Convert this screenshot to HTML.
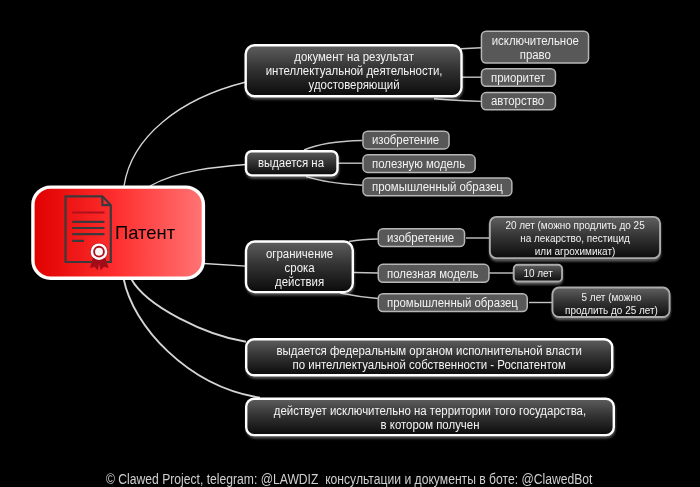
<!DOCTYPE html>
<html lang="ru">
<head>
<meta charset="utf-8">
<title>Патент</title>
<style>
html,body{margin:0;padding:0;background:#000;}
body{width:700px;height:487px;position:relative;overflow:hidden;font-family:"Liberation Sans",sans-serif;color:#fff;}
svg{position:absolute;left:0;top:0;}
.n{position:absolute;display:flex;align-items:center;justify-content:center;text-align:center;white-space:nowrap;}
.m{font-size:12px;transform:scaleX(.952);line-height:14px;color:#f4f4f4;}
.s{font-size:12px;transform:scaleX(.951);line-height:14px;color:#f2f2f2;}
.s.al{justify-content:flex-start;transform-origin:0 50%;}
.l{font-size:10px;transform:scaleX(.995);line-height:13px;color:#f2f2f2;}
#ct{transform:translateZ(0);position:absolute;left:115px;top:222px;font-size:18.4px;line-height:22px;color:#000;}
#f{transform:scaleX(.867);transform-origin:0 0;position:absolute;left:106px;top:471.1px;font-size:14px;line-height:16px;color:#d0d0d0;white-space:pre;}
</style>
</head>
<body>
<svg width="700" height="487" viewBox="0 0 700 487">
<defs>
<linearGradient id="gm" x1="0" y1="0" x2="0" y2="1"><stop offset="0" stop-color="#5e5e5e"/><stop offset=".45" stop-color="#343434"/><stop offset="1" stop-color="#0a0a0a"/></linearGradient>
<linearGradient id="gl" x1="0" y1="0" x2="0" y2="1"><stop offset="0" stop-color="#606060"/><stop offset=".45" stop-color="#363636"/><stop offset="1" stop-color="#0c0c0c"/></linearGradient>
<linearGradient id="gr" x1="0" y1="0" x2="1" y2="0"><stop offset="0" stop-color="#e00000"/><stop offset=".5" stop-color="#ff3030"/><stop offset="1" stop-color="#ff7474"/></linearGradient>
<filter id="sh" x="-10%" y="-30%" width="120%" height="170%"><feGaussianBlur stdDeviation="1.1"/></filter>
<filter id="sh2" x="-10%" y="-30%" width="120%" height="170%"><feGaussianBlur stdDeviation="0.9"/></filter>
</defs>
<g fill="none" stroke="#d6d6d6" stroke-width="1.35">
<path d="M124 186 C131.400 137.100 179 98.700 246 82"/>
<path d="M150 186 C178.200 170.100 216.900 166.800 246 164.500"/>
<path d="M204 263.500 L246 266.200"/>
</g>
<g fill="none" stroke="#d4d4d4" stroke-width="1.9">
<path d="M131.300 279 C146.400 306.600 206.300 335.400 246 341.800"/>
<path d="M123.700 279 C132.700 325.200 187 386.300 260 397.700"/>
</g>
<g fill="none" stroke="#c4c4c4" stroke-width="1.4">
<path d="M461 48.800 L481 47.700"/>
<path d="M461 77.200 L481 77.200"/>
<path d="M434 98.700 C450 99.800 466 100.800 481 101.400"/>
<path d="M304 150 C320 143 340 141 362 140.500"/>
<path d="M338 163.200 L362.400 163.200"/>
<path d="M306 176.600 C320 181 340 184 362.400 185.200"/>
<path d="M349 241.500 C358 240 368 239.200 378 239"/>
<path d="M354 272.500 L378 273"/>
<path d="M340 293 C352 295.500 365 297.500 378 298.500"/>
<path d="M466 238 L489 238"/>
<path d="M489 273 L514 273"/>
<path d="M529 302.500 L552 302.500"/>
</g>

<g filter="url(#sh)" fill="#fff" opacity=".32">
<rect x="245.3" y="46.3" width="217.9" height="53.3" rx="10"/>
<rect x="245.6" y="152.2" width="93.6" height="26.6" rx="7"/>
<rect x="245.6" y="242.5" width="108.9" height="53" rx="10"/>
<rect x="245.8" y="340.3" width="368.1" height="38.4" rx="9"/>
<rect x="245.8" y="399.8" width="369.7" height="38.7" rx="9"/>
</g>
<g filter="url(#sh2)" fill="#fff" opacity=".36">
<rect x="489.4" y="218.2" width="171.6" height="43.2" rx="7.5"/>
<rect x="513.3" y="266.1" width="49.7" height="18.7" rx="5"/>
<rect x="552" y="288.9" width="118.5" height="31.4" rx="7.5"/>
</g>
<rect x="245.7" y="45.3" width="215.8" height="50.9" rx="8.8" fill="url(#gm)" stroke="#fff" stroke-width="2.4"/>
<rect x="246" y="151.2" width="91.5" height="24.2" rx="5.8" fill="url(#gm)" stroke="#fff" stroke-width="2.4"/>
<rect x="246" y="241.5" width="106.8" height="50.6" rx="8.8" fill="url(#gm)" stroke="#fff" stroke-width="2.4"/>
<rect x="246.2" y="339.3" width="366" height="36" rx="7.8" fill="url(#gm)" stroke="#fff" stroke-width="2.4"/>
<rect x="246.2" y="398.8" width="367.6" height="36.3" rx="7.8" fill="url(#gm)" stroke="#fff" stroke-width="2.4"/>
<rect x="481.45" y="31.25" width="107.1" height="31.8" rx="4.75" fill="#585858" stroke="#b6b6b6" stroke-width="1.5"/>
<rect x="481.45" y="68.75" width="74" height="17.6" rx="4.75" fill="#585858" stroke="#b6b6b6" stroke-width="1.5"/>
<rect x="481.45" y="92.55" width="74" height="17.3" rx="4.75" fill="#585858" stroke="#b6b6b6" stroke-width="1.5"/>
<rect x="362.95" y="131.15" width="86.1" height="17.8" rx="4.75" fill="#585858" stroke="#b6b6b6" stroke-width="1.5"/>
<rect x="362.95" y="154.85" width="112.2" height="17.6" rx="4.75" fill="#585858" stroke="#b6b6b6" stroke-width="1.5"/>
<rect x="362.95" y="178.05" width="148.9" height="17.8" rx="4.75" fill="#585858" stroke="#b6b6b6" stroke-width="1.5"/>
<rect x="378.25" y="228.75" width="86.3" height="17.8" rx="4.75" fill="#585858" stroke="#b6b6b6" stroke-width="1.5"/>
<rect x="378.25" y="264.35" width="110.7" height="18" rx="4.75" fill="#585858" stroke="#b6b6b6" stroke-width="1.5"/>
<rect x="378.25" y="293.65" width="149" height="17.9" rx="4.75" fill="#585858" stroke="#b6b6b6" stroke-width="1.5"/>
<rect x="489.85" y="216.85" width="170.2" height="41.3" rx="6.55" fill="url(#gl)" stroke="#ababab" stroke-width="1.9"/>
<rect x="513.75" y="264.75" width="48.3" height="16.8" rx="4.05" fill="url(#gl)" stroke="#ababab" stroke-width="1.9"/>
<rect x="552.45" y="287.55" width="117.1" height="29.5" rx="6.55" fill="url(#gl)" stroke="#ababab" stroke-width="1.9"/>
<rect x="32.9" y="187.1" width="170.5" height="91.1" rx="17.8" fill="url(#gr)" stroke="#fff" stroke-width="3.4"/>
<g fill="none">
<path d="M65.500 196.300 H102.400 L110.800 205.200 V262 H65.500 Z" stroke="#3a3a3c" stroke-width="2.200"/>
<path d="M102.400 196.300 V205.200 H110.800" stroke="#3a3a3c" stroke-width="2.200"/>
<path d="M72.200 212.500 H104.500" stroke="#b0101c" stroke-width="2.200"/>
<path d="M72.200 221.800 H104.500 M72.200 228 H104.500 M72.200 234.200 H104.500 M72.200 240.800 H84" stroke="#3a3a3c" stroke-width="2.200"/>
</g>
<path d="M93 257 L90 268 L94.700 266.800 L97.700 270.300 L100 259 Z" fill="#a00c18"/>
<path d="M105 257 L108.700 268 L104 266.800 L100.700 270.300 L98 259 Z" fill="#a00c18"/>
<circle cx="99" cy="251.700" r="9" fill="#a00c18" opacity=".55"/>
<circle cx="99" cy="251.700" r="8.300" fill="#fff"/>
<circle cx="99" cy="251.700" r="4.900" fill="#fff6f6" stroke="#b0101c" stroke-width="1.900"/>
</svg>
<div id="ct">Патент</div>

<div class="n m" style="left:244.5px;top:44.65px;width:218.2px;height:53.3px;">документ на результат<br>интеллектуальной деятельности,<br>удостоверяющий</div>
<div class="n m" style="left:244.2px;top:150px;width:93.9px;height:26.6px;">выдается на</div>
<div class="n m" style="left:244.8px;top:241.1px;width:109.2px;height:53px;">ограничение<br>срока<br>действия</div>
<div class="n m" style="left:245px;top:338.7px;width:368.4px;height:38.4px;">выдается федеральным органом исполнительной власти<br>по интеллектуальной собственности - Роспатентом</div>
<div class="n m" style="left:245px;top:398.3px;width:370px;height:38.7px;">действует исключительно на территории того государства,<br>в котором получен</div>
<div class="n s" style="left:480.7px;top:30.9px;width:108.6px;height:33.3px;">исключительное<br>право</div>
<div class="n s al" style="left:490.6px;top:68px;width:65.6px;height:19.1px;">приоритет</div>
<div class="n s al" style="left:490.6px;top:91.6px;width:65.6px;height:18.8px;">авторство</div>
<div class="n s al" style="left:372.1px;top:130.4px;width:77.7px;height:19.3px;">изобретение</div>
<div class="n s al" style="left:372.1px;top:154.1px;width:103.8px;height:19.1px;">полезную модель</div>
<div class="n s al" style="left:372.1px;top:177.3px;width:140.5px;height:19.3px;">промышленный образец</div>
<div class="n s al" style="left:387.4px;top:228.3px;width:77.9px;height:19.3px;">изобретение</div>
<div class="n s al" style="left:387.4px;top:264.5px;width:102.3px;height:19.5px;">полезная модель</div>
<div class="n s al" style="left:387.4px;top:292.9px;width:140.6px;height:19.4px;">промышленный образец</div>
<div class="n l" style="left:488.9px;top:217px;width:172.1px;height:43.2px;">20 лет (можно продлить до 25<br>на лекарство, пестицид<br>или агрохимикат)</div>
<div class="n l" style="left:512.8px;top:264.65px;width:50.2px;height:18.7px;">10 лет</div>
<div class="n l" style="left:551.5px;top:288px;width:119px;height:31.4px;">5 лет (можно<br>продлить до 25 лет)</div>
<div id="f"><span>© Clawed Project, telegram: @LAWDIZ  </span><span>консультации и документы в боте: @ClawedBot</span></div>
</body>
</html>
